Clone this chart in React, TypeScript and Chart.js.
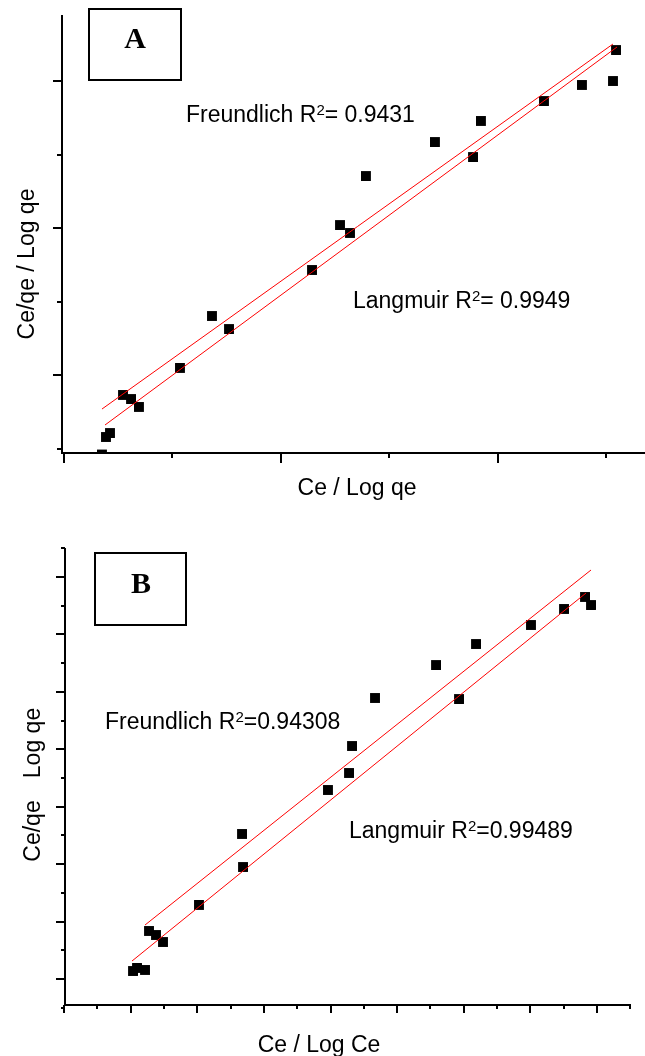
import React, { useEffect, useRef } from "react";
import { Chart, registerables } from "chart.js";

Chart.register(...registerables);

// ---------- Panel A data ----------
const aPointX = [0.350, 0.387, 0.424, 0.544, 0.618, 0.691, 1.069, 1.364, 1.521, 2.286, 2.544, 2.636, 2.783, 3.419, 3.770, 3.843, 4.424, 4.774, 5.060, 5.088];
const aPointY = [-0.075, 0.163, 0.217, 0.734, 0.679, 0.571, 1.101, 1.807, 1.630, 2.432, 3.043, 2.935, 3.709, 4.171, 3.967, 4.457, 4.728, 4.946, 5.000, 5.421];
const aFreundlichX = [0.350, 5.060];
const aFreundlichY = [0.543, 5.503];
const aLangmuirX = [0.378, 5.097];
const aLangmuirY = [0.326, 5.462];
const aXMajor = [0, 2, 4];
const aXMinor = [1, 3, 5];
const aYMajor = [1, 3, 5];
const aYMinor = [0, 2, 4];
const aXRange = [-0.0184, 5.355];
const aYRange = [-0.0543, 5.897];
const aPanel = "A";
const aXTitle = "Ce / Log qe";
const aYTitle = ["Ce/qe / Log qe"];
const aFreundlichText = ["Freundlich R", "2", "= 0.9431"];
const aLangmuirText = ["Langmuir R", "2", "= 0.9949"];

// ---------- Panel B data ----------
const bPointX = [1.036, 1.096, 1.216, 1.276, 1.381, 1.486, 2.026, 2.672, 2.687, 3.962, 4.278, 4.323, 4.668, 5.584, 5.929, 6.184, 7.009, 7.505, 7.820, 7.910];
const bPointY = [0.139, 0.192, 0.157, 0.836, 0.766, 0.644, 1.289, 2.525, 1.950, 3.291, 3.587, 4.057, 4.893, 5.467, 4.875, 5.833, 6.164, 6.443, 6.652, 6.512];
const bFreundlichX = [1.216, 7.910];
const bFreundlichY = [0.940, 7.122];
const bLangmuirX = [1.021, 7.835];
const bLangmuirY = [0.313, 6.721];
const bXMajor = [0, 1, 2, 3, 4, 5, 6, 7, 8];
const bXMinor = [0.5, 1.5, 2.5, 3.5, 4.5, 5.5, 6.5, 7.5, 8.5];
const bYMajor = [0, 1, 2, 3, 4, 5, 6, 7];
const bYMinor = [-0.5, 0.5, 1.5, 2.5, 3.5, 4.5, 5.5, 6.5, 7.5];
const bXRange = [0.015, 8.51];
const bYRange = [-0.4527, 7.505];
const bPanel = "B";
const bXTitle = "Ce / Log Ce";
const bYTitle = ["Log qe", "Ce/qe"];
const bFreundlichText = ["Freundlich R", "2", "=0.94308"];
const bLangmuirText = ["Langmuir R", "2", "=0.99489"];

const SANS = '"Liberation Sans", Arial, sans-serif';
const SERIF = '"Liberation Serif", "Times New Roman", serif';

type Layout = {
  width: number;
  height: number;
  padding: { left: number; top: number; right: number; bottom: number };
  xMajorLen: number;
  xMinorLen: number;
  yMajorLen: number;
  yMinorLen: number;
  box: { x: number; y: number; w: number; h: number; textX: number; textY: number };
  freundlichPos: { x: number; y: number };
  langmuirPos: { x: number; y: number };
  xTitlePos: { x: number; y: number };
  yTitlePos: { x: number; ys: number[] };
};

type Panel = {
  pointX: number[];
  pointY: number[];
  fX: number[];
  fY: number[];
  lX: number[];
  lY: number[];
  xMajor: number[];
  xMinor: number[];
  yMajor: number[];
  yMinor: number[];
  xRange: number[];
  yRange: number[];
  panel: string;
  xTitle: string;
  yTitle: string[];
  fText: string[];
  lText: string[];
  pointClip: any;
};

const layoutA: Layout = {
  width: 645,
  height: 505,
  padding: { left: 62, top: 15, right: 0, bottom: 52 },
  xMajorLen: 10,
  xMinorLen: 5,
  yMajorLen: 9,
  yMinorLen: 5,
  box: { x: 89, y: 9, w: 92, h: 71, textX: 135, textY: 48 },
  freundlichPos: { x: 186, y: 122 },
  langmuirPos: { x: 353, y: 308 },
  xTitlePos: { x: 357, y: 495 },
  yTitlePos: { x: 34, ys: [264] },
};

const layoutB: Layout = {
  width: 645,
  height: 551,
  padding: { left: 65, top: 43, right: 14, bottom: 51 },
  xMajorLen: 8,
  xMinorLen: 4,
  yMajorLen: 9,
  yMinorLen: 4,
  box: { x: 95, y: 48, w: 91, h: 72, textX: 141, textY: 88 },
  freundlichPos: { x: 105, y: 224 },
  langmuirPos: { x: 349, y: 333 },
  xTitlePos: { x: 319, y: 547 },
  yTitlePos: { x: 40, ys: [238, 326] },
};

const panelA: Panel = {
  pointX: aPointX, pointY: aPointY,
  fX: aFreundlichX, fY: aFreundlichY, lX: aLangmuirX, lY: aLangmuirY,
  xMajor: aXMajor, xMinor: aXMinor, yMajor: aYMajor, yMinor: aYMinor,
  xRange: aXRange, yRange: aYRange,
  panel: aPanel, xTitle: aXTitle, yTitle: aYTitle,
  fText: aFreundlichText, lText: aLangmuirText,
  pointClip: { left: 10, top: 10, right: 10, bottom: 0 },
};

const panelB: Panel = {
  pointX: bPointX, pointY: bPointY,
  fX: bFreundlichX, fY: bFreundlichY, lX: bLangmuirX, lY: bLangmuirY,
  xMajor: bXMajor, xMinor: bXMinor, yMajor: bYMajor, yMinor: bYMinor,
  xRange: bXRange, yRange: bYRange,
  panel: bPanel, xTitle: bXTitle, yTitle: bYTitle,
  fText: bFreundlichText, lText: bLangmuirText,
  pointClip: { left: 10, top: 10, right: 10, bottom: 10 },
};

function drawSup(ctx: CanvasRenderingContext2D, parts: string[], x: number, y: number) {
  ctx.textAlign = "left";
  ctx.textBaseline = "alphabetic";
  ctx.font = `23px ${SANS}`;
  ctx.fillText(parts[0], x, y);
  let cx = x + ctx.measureText(parts[0]).width;
  ctx.font = `15px ${SANS}`;
  ctx.fillText(parts[1], cx, y - 7);
  cx += ctx.measureText(parts[1]).width;
  ctx.font = `23px ${SANS}`;
  ctx.fillText(parts[2], cx, y);
}

function makeDecor(p: Panel, L: Layout) {
  return {
    id: "decor" + p.panel,
    afterDatasetsDraw(chart: any) {
      const ctx: CanvasRenderingContext2D = chart.ctx;
      const xs = chart.scales.x;
      const ys = chart.scales.y;
      const ca = chart.chartArea;
      ctx.save();
      ctx.strokeStyle = "#000";
      ctx.fillStyle = "#000";
      ctx.lineWidth = 2;
      ctx.lineCap = "butt";
      // axis lines
      ctx.beginPath();
      ctx.moveTo(ca.left, ca.top);
      ctx.lineTo(ca.left, ca.bottom + 1);
      ctx.moveTo(ca.left - 1, ca.bottom);
      ctx.lineTo(ca.right, ca.bottom);
      ctx.stroke();
      // ticks
      ctx.beginPath();
      p.xMajor.forEach((v) => {
        const px = Math.round(xs.getPixelForValue(v));
        ctx.moveTo(px, ca.bottom);
        ctx.lineTo(px, ca.bottom + L.xMajorLen);
      });
      p.xMinor.forEach((v) => {
        const px = Math.round(xs.getPixelForValue(v));
        ctx.moveTo(px, ca.bottom);
        ctx.lineTo(px, ca.bottom + L.xMinorLen);
      });
      p.yMajor.forEach((v) => {
        const py = Math.round(ys.getPixelForValue(v));
        ctx.moveTo(ca.left, py);
        ctx.lineTo(ca.left - L.yMajorLen, py);
      });
      p.yMinor.forEach((v) => {
        const py = Math.round(ys.getPixelForValue(v));
        ctx.moveTo(ca.left, py);
        ctx.lineTo(ca.left - L.yMinorLen, py);
      });
      ctx.stroke();
      // panel box
      ctx.lineWidth = 2;
      ctx.strokeRect(L.box.x, L.box.y, L.box.w, L.box.h);
      ctx.font = `bold 30px ${SERIF}`;
      ctx.textAlign = "center";
      ctx.textBaseline = "alphabetic";
      ctx.fillText(p.panel, L.box.textX, L.box.textY);
      // annotations
      drawSup(ctx, p.fText, L.freundlichPos.x, L.freundlichPos.y);
      drawSup(ctx, p.lText, L.langmuirPos.x, L.langmuirPos.y);
      // axis titles
      ctx.font = `23px ${SANS}`;
      ctx.textAlign = "center";
      ctx.fillText(p.xTitle, L.xTitlePos.x, L.xTitlePos.y);
      p.yTitle.forEach((t, i) => {
        ctx.save();
        ctx.translate(L.yTitlePos.x, L.yTitlePos.ys[i]);
        ctx.rotate(-Math.PI / 2);
        ctx.fillText(t, 0, 0);
        ctx.restore();
      });
      ctx.restore();
    },
  };
}

function PanelChart({ p, L }: { p: Panel; L: Layout }) {
  const ref = useRef<HTMLCanvasElement | null>(null);
  useEffect(() => {
    if (!ref.current) return;
    const chart = new Chart(ref.current, {
      type: "scatter",
      data: {
        datasets: [
          {
            label: "Freundlich",
            data: p.fX.map((x, i) => ({ x, y: p.fY[i] })),
            showLine: true,
            pointRadius: 0,
            borderColor: "#ff0000",
            borderWidth: 1,
            backgroundColor: "#ff0000",
            order: 0,
          } as any,
          {
            label: "Langmuir",
            data: p.lX.map((x, i) => ({ x, y: p.lY[i] })),
            showLine: true,
            pointRadius: 0,
            borderColor: "#ff0000",
            borderWidth: 1,
            backgroundColor: "#ff0000",
            order: 0,
          } as any,
          {
            label: "Data",
            data: p.pointX.map((x, i) => ({ x, y: p.pointY[i] })),
            pointStyle: "rect",
            pointRadius: 7,
            pointHoverRadius: 7,
            backgroundColor: "#000",
            borderColor: "#000",
            borderWidth: 0,
            clip: p.pointClip,
            order: 1,
          } as any,
        ],
      },
      options: {
        responsive: false,
        animation: false,
        devicePixelRatio: 1,
        events: [],
        layout: { padding: L.padding, autoPadding: false },
        scales: {
          x: { type: "linear", display: false, min: p.xRange[0], max: p.xRange[1] },
          y: { type: "linear", display: false, min: p.yRange[0], max: p.yRange[1] },
        },
        plugins: {
          legend: { display: false },
          tooltip: { enabled: false },
        },
      },
      plugins: [makeDecor(p, L)],
    });
    return () => chart.destroy();
  }, [p, L]);
  return <canvas ref={ref} width={L.width} height={L.height} style={{ display: "block" }} />;
}

export default function App() {
  return (
    <div style={{ position: "absolute", left: 0, top: 0, width: 645, height: 1056, background: "#fff" }}>
      <PanelChart p={panelA} L={layoutA} />
      <PanelChart p={panelB} L={layoutB} />
    </div>
  );
}
